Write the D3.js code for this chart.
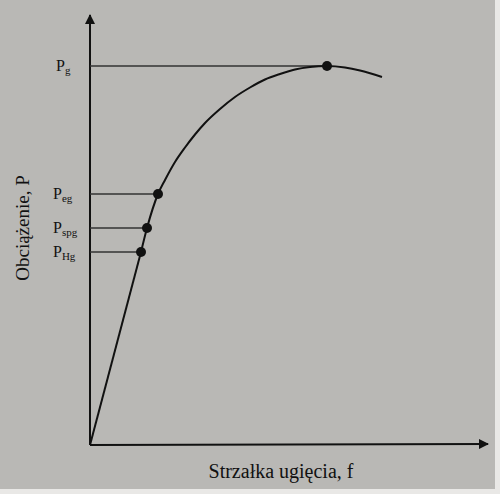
<!DOCTYPE html>
<html>
<head>
<meta charset="utf-8">
<script src="https://cdn.jsdelivr.net/npm/d3@7"></script>
<style>
  body { margin: 0; background: #e9e8e6; }
  svg { display: block; }
  text { font-family: "Liberation Serif", "DejaVu Serif", serif; fill: #111; }
</style>
</head>
<body>
<script>
// Data (arbitrary units)
var linearF = [0, 51];
var linearP = [0, 193];

var curveF = [51, 57, 68, 75, 85, 95, 105, 115, 130, 145, 160, 175, 190, 205, 220, 237, 255, 270, 292];
var curveP = [193, 217, 251, 265, 283, 297.5, 310.5, 322, 336, 348, 357.5, 365.5, 371, 375.5, 378, 379, 377.5, 374.5, 368];

var markNames = ["Hg", "spg", "eg", "g"];
var markF = [51, 57, 68, 237];
var markP = [193, 217, 251, 379];

var w = 500;
var h = 494;

var x = d3.scaleLinear().domain([0, 400]).range([90, 490]);
var y = d3.scaleLinear().domain([0, 400]).range([445, 45]);

var svg = d3.select("body").
append("svg").
attr("width", w).
attr("height", h);

// paper background
svg.append("rect").
attr("width", 495).
attr("height", 489).
attr("fill", "#b9b8b5");

var defs = svg.append("defs");
defs.append("marker").
attr("id", "arrow").
attr("viewBox", "0 0 10 10").
attr("refX", 9).
attr("refY", 5).
attr("markerWidth", 5).
attr("markerHeight", 5).
attr("orient", "auto").
append("path").
attr("d", "M0,0 L10,5 L0,10 z").
attr("fill", "#111");

// axes
svg.append("line").
attr("x1", x(0)).attr("y1", y(0)).
attr("x2", x(0)).attr("y2", 15).
attr("stroke", "#111").
attr("stroke-width", 2).
attr("marker-end", "url(#arrow)");

svg.append("line").
attr("x1", x(0)).attr("y1", y(0)).
attr("x2", 488).attr("y2", y(0) - 1).
attr("stroke", "#111").
attr("stroke-width", 2).
attr("marker-end", "url(#arrow)");

// horizontal guides
svg.append("g").
selectAll("line").
data(markF).
enter().append("line").
attr("x1", x(0)).
attr("x2", function (d) {return x(d);}).
attr("y1", function (d, i) {return y(markP[i]);}).
attr("y2", function (d, i) {return y(markP[i]);}).
attr("stroke", "#333").
attr("stroke-width", 1.3);

// straight part
var line = d3.line().
x(function (d) {return x(d[0]);}).
y(function (d) {return y(d[1]);});

svg.append("path").
datum(d3.zip(linearF, linearP)).
attr("d", line).
attr("fill", "none").
attr("stroke", "#111").
attr("stroke-width", 2);

// curved part
svg.append("path").
datum(d3.zip(curveF, curveP)).
attr("d", line.curve(d3.curveMonotoneX)).
attr("fill", "none").
attr("stroke", "#111").
attr("stroke-width", 2);

// dots
svg.append("g").
selectAll("circle").
data(markF).
enter().append("circle").
attr("cx", function (d) {return x(d);}).
attr("cy", function (d, i) {return y(markP[i]);}).
attr("r", 5).
attr("fill", "#111");

// P labels
var lab = svg.append("g").
selectAll("text").
data(markNames).
enter().append("text").
attr("x", function (d) {return d == "g" ? 56 : 53;}).
attr("y", function (d, i) {return y(markP[i]) + 5;}).
style("font-size", "16px");

lab.append("tspan").text("P");
lab.append("tspan").
attr("dy", 3).
style("font-size", "11px").
text(function (d) {return d;});

// axis titles
svg.append("text").
attr("transform", "translate(29,228) rotate(-90)").
attr("text-anchor", "middle").
style("font-size", "19px").
text("Obciążenie, P");

svg.append("text").
attr("x", 281).
attr("y", 478).
attr("text-anchor", "middle").
style("font-size", "20px").
text("Strzałka ugięcia, f");
</script>
</body>
</html>
